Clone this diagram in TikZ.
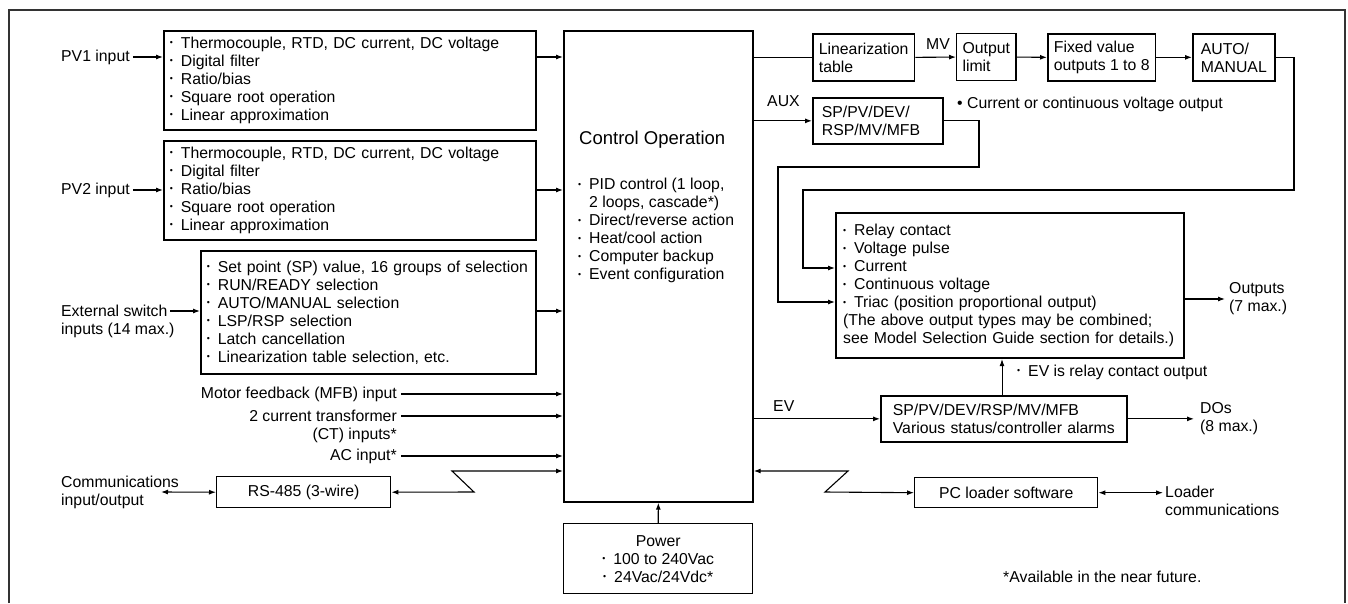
\documentclass[tikz,border=0pt]{standalone}
\usepackage{fontspec}
\setmainfont{Liberation Sans}
\usepackage{graphicx}
\usetikzlibrary{arrows.meta}
\newcommand{\bu}{\makebox[11pt][l]{\raisebox{0.3ex}{\scalebox{0.55}{\textbullet}}}}
\newcommand{\bux}{\makebox[11pt]{}}
\begin{document}
\begin{tikzpicture}[x=1pt,y=-1pt,
  every node/.style={font=\fontsize{15.8}{18}\selectfont, inner sep=0pt},
  blk/.style={draw, line width=1.7pt, inner xsep=6pt, inner ysep=0pt, align=left, anchor=north west},
  con/.style={line width=1.1pt},
  arr/.style={con, -{Latex[length=7pt,width=5pt]}},
  darr/.style={con, {Latex[length=7pt,width=5pt]}-{Latex[length=7pt,width=5pt]}},
  lbl/.style={align=left}]
\useasboundingbox (0,0) rectangle (1348,603);
\draw[line width=1.4pt, black!80] (9,603) -- (9,10) -- (1345,10) -- (1345,603);

% ---------- boxes ----------
\node[blk, text width=360pt, minimum height=99pt] (pv1) at (163,30)
  {\bu Thermocouple, RTD, DC current, DC voltage\\\bu Digital filter\\\bu Ratio/bias\\\bu Square root operation\\\bu Linear approximation};
\node[blk, text width=360pt, minimum height=99pt] (pv2) at (163,140)
  {\bu Thermocouple, RTD, DC current, DC voltage\\\bu Digital filter\\\bu Ratio/bias\\\bu Square root operation\\\bu Linear approximation};
\node[blk, text width=323pt, minimum height=123pt] (ext) at (200,250)
  {\bu Set point (SP) value, 16 groups of selection\\\bu RUN/READY selection\\\bu AUTO/MANUAL selection\\\bu LSP/RSP selection\\\bu Latch cancellation\\\bu Linearization table selection, etc.};
\node[blk, minimum width=189pt, minimum height=471pt] (ctrl) at (563,30) {};
\node[font=\fontsize{18.5}{22}\selectfont, anchor=west] (ctrlt) at (579,140) {Control Operation};
\node[lbl, anchor=north west] (ctrll) at (578,178)
  {\bu PID control (1 loop,\\\bux 2 loops, cascade*)\\\bu Direct/reverse action\\\bu Heat/cool action\\\bu Computer backup\\\bu Event configuration};
\node[blk, align=center, line width=1.4pt, minimum width=189pt, minimum height=70pt] (power) at (563,523)
  {Power\\\bu 100 to 240Vac\\\bu 24Vac/24Vdc*};
\node[blk, align=center, line width=1.4pt, minimum width=174pt, minimum height=31pt] (rs) at (216,476) {RS-485 (3-wire)};
\node[blk, align=center, line width=1.4pt, minimum width=183pt, minimum height=30pt] (pc) at (914,477) {PC loader software};

\node[blk, minimum width=98pt, minimum height=47pt] (lin) at (812,33) {Linearization\\table};
\node[blk, line width=1.1pt, minimum width=54pt, minimum height=47pt] (olim) at (956,33) {Output\\limit};
\node[blk, minimum width=106pt, minimum height=47pt] (fix) at (1047,33) {Fixed value\\outputs 1 to 8};
\node[blk, minimum width=82pt, minimum height=47pt] (am) at (1192,33) {AUTO/\\MANUAL};
\node[blk, inner xsep=9pt, text width=112pt, minimum height=46pt] (aux) at (812,97) {SP/PV/DEV/\\RSP/MV/MFB};
\node[blk, line width=2.2pt, inner xsep=7pt, text width=334pt, minimum height=145pt] (outb) at (835,212)
  {\bu Relay contact\\\bu Voltage pulse\\\bu Current\\\bu Continuous voltage\\\bu Triac (position proportional output)\\(The above output types may be combined;\\see Model Selection Guide section for details.)};
\node[blk, inner xsep=12pt, text width=222pt, minimum height=46pt] (ev) at (880,395)
  {SP/PV/DEV/RSP/MV/MFB\\Various status/controller alarms};

% ---------- labels ----------
\node[anchor=west] (pv1in) at (61,57) {PV1 input};
\node[anchor=west] (pv2in) at (61,190) {PV2 input};
\node[lbl, anchor=west] (extin) at (61,321) {External switch\\inputs (14 max.)};
\node[anchor=east] (mfb) at (397,394) {Motor feedback (MFB) input};
\node[anchor=east] (ct1) at (397,416) {2 current transformer};
\node[anchor=east] (ct2) at (397,435) {(CT) inputs*};
\node[anchor=east] (acin) at (397,456) {AC input*};
\node[lbl, anchor=west] (comm) at (61,492) {Communications\\input/output};
\node (mv) at (938,44) {MV};
\node[anchor=west] (auxl) at (767,101) {AUX};
\node[anchor=west] (cur) at (957,104) {\textbullet{} Current or continuous voltage output};
\node[lbl, anchor=west] (outl) at (1229,299) {Outputs\\(7 max.)};
\node[anchor=west] (evl) at (773,406) {EV};
\node[anchor=west] (evr) at (1017,372) {\bu EV is relay contact output};
\node[lbl, anchor=west] (dos) at (1200,419) {DOs\\(8 max.)};
\node[lbl, anchor=west] (ldr) at (1165,501) {Loader\\communications};
\node[anchor=west] (avail) at (1003,577) {*Available in the near future.};

% ---------- coordinates ----------
\coordinate (exa) at (170,311);
\coordinate (cm) at (161,492);
\coordinate (zl1) at (452,471);
\coordinate (zl2) at (474,492);
\coordinate (zr1) at (848,471);
\coordinate (zr2) at (825,492);
\coordinate (amR) at (1294,190);
\coordinate (curIn) at (803,268);
\coordinate (auxR) at (979,167);
\coordinate (triIn) at (778,302);
\coordinate (evx) at (1002,0);

% ---------- connectors ----------
\draw[arr] ([xshift=3pt]pv1in.east) -- (pv1.west |- pv1in.east);
\draw[arr] (pv1.east |- pv1in.east) -- (ctrl.west |- pv1in.east);
\draw[arr] ([xshift=3pt]pv2in.east) -- (pv2.west |- pv2in.east);
\draw[arr] (pv2.east |- pv2in.east) -- (ctrl.west |- pv2in.east);
\draw[arr] (exa) -- (ext.west |- exa);
\draw[arr] (ext.east |- exa) -- (ctrl.west |- exa);
\draw[arr] ([xshift=4pt]mfb.east) -- (ctrl.west |- mfb.east);
\draw[arr] ([xshift=4pt]ct1.east) -- (ctrl.west |- ct1.east);
\draw[arr] ([xshift=4pt]acin.east) -- (ctrl.west |- acin.east);
\draw[darr] (ctrl.west |- zl1) -- (zl1) -- (zl2) -- (rs.east);
\draw[darr] (cm) -- (rs.west);
\draw[arr] (power.north) -- (ctrl.south);
\draw[darr] (ctrl.east |- zr1) -- (zr1) -- (zr2) -- (pc.west);
\draw[darr] (pc.east) -- ([xshift=-2pt]ldr.west |- pc.east);

\draw[con] (ctrl.east |- lin.west) -- (lin.west);
\draw[arr] (lin.east) -- (olim.west);
\draw[arr] (olim.east) -- (fix.west);
\draw[arr] (fix.east) -- (am.west);
\draw[arr] (am.east) -| (amR) -| (curIn) -- (outb.west |- curIn);
\draw[arr] (ctrl.east |- aux.west) -- (aux.west);
\draw[arr] (aux.east) -| (auxR) -| (triIn) -- (outb.west |- triIn);
\draw[arr] (outb.east |- outl.west) -- ([xshift=-4pt]outl.west);
\draw[arr] (ctrl.east |- ev.west) -- (ev.west);
\draw[arr, line width=0.8pt] (ev.north -| evx) -- (outb.south -| evx);
\draw[arr] (ev.east) -- ([xshift=-6pt]dos.west |- ev.east);
\end{tikzpicture}
\end{document}
